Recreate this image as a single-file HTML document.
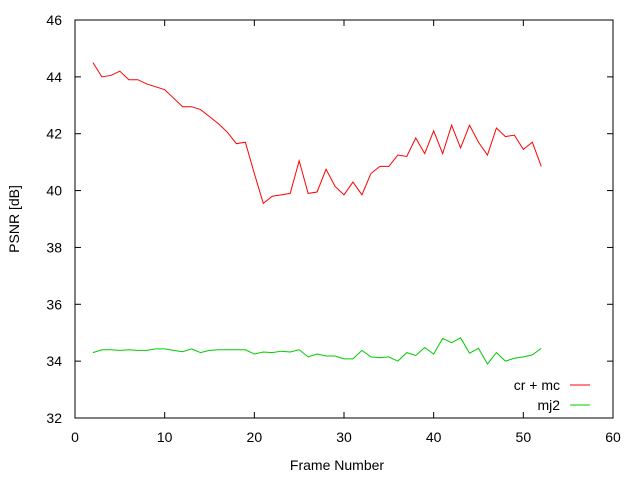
<!DOCTYPE html>
<html><head><meta charset="utf-8"><style>
body{margin:0;background:#fff}
svg text{font-family:"Liberation Sans",sans-serif;font-size:14px;fill:#000}
</style></head><body>
<svg id="chart" width="640" height="480">
<rect x="75" y="20" width="538" height="398" fill="none" stroke="#000"/>
<g id="axes"></g>
<text x="337" y="470" text-anchor="middle">Frame Number</text>
<text transform="translate(19,219) rotate(-90)" text-anchor="middle">PSNR [dB]</text>
<g id="series"></g>
<g>
<text x="560" y="390" text-anchor="end">cr + mc</text>
<line x1="570" y1="385" x2="590" y2="385" stroke="#f00"/>
<text x="560" y="410" text-anchor="end">mj2</text>
<line x1="570" y1="405" x2="590" y2="405" stroke="#0c0"/>
</g>
</svg>
<script>
const frames=[];for(let f=2;f<=52;f++)frames.push(f);
const crmc=[44.5,44.0,44.05,44.2,43.9,43.9,43.75,43.65,43.55,43.25,42.95,42.95,42.85,42.6,42.35,42.05,41.65,41.7,40.6,39.55,39.8,39.85,39.9,41.05,39.9,39.95,40.75,40.15,39.85,40.3,39.85,40.6,40.85,40.85,41.25,41.2,41.85,41.3,42.1,41.3,42.3,41.5,42.3,41.7,41.25,42.2,41.9,41.95,41.45,41.7,40.85];
const mj2=[34.3,34.4,34.4,34.38,34.4,34.38,34.38,34.43,34.43,34.38,34.33,34.43,34.3,34.38,34.4,34.4,34.4,34.4,34.25,34.32,34.3,34.35,34.32,34.4,34.15,34.25,34.18,34.18,34.08,34.08,34.38,34.15,34.12,34.15,34.0,34.3,34.2,34.48,34.25,34.8,34.65,34.82,34.28,34.45,33.9,34.3,34.0,34.1,34.15,34.22,34.45];
const xTicks=[0,10,20,30,40,50,60];
const yTicks=[32,34,36,38,40,42,44,46];
const sx=v=>75+v*538/60, sy=v=>418-(v-32)*398/14;
const NS="http://www.w3.org/2000/svg";
const ax=document.getElementById('axes');
function mk(t,a,p){const e=document.createElementNS(NS,t);for(const k in a)e.setAttribute(k,a[k]);p.appendChild(e);return e;}
xTicks.forEach(v=>{const x=sx(v);
 const l=mk('line',{x1:x,y1:418,x2:x,y2:412,stroke:'#000'},ax);
 
 
 mk('line',{x1:x,y1:20,x2:x,y2:26,stroke:'#000'},ax);
 const t=mk('text',{x:x,y:442,'text-anchor':'middle'},ax);t.textContent=v;
 
 });
yTicks.forEach(v=>{const y=sy(v);
 const l=mk('line',{x1:75,y1:y,x2:81,y2:y,stroke:'#000'},ax);
 
 
 mk('line',{x1:613,y1:y,x2:607,y2:y,stroke:'#000'},ax);
 const t=mk('text',{x:62,y:y+5,'text-anchor':'end'},ax);t.textContent=v;
 
 });
const sg=document.getElementById('series');
function line(vals,col,name){const p=mk('polyline',{points:vals.map((v,i)=>sx(frames[i])+','+sy(v)).join(' '),fill:'none',stroke:col,'stroke-width':1},sg);
 
 }
line(crmc,'#f00','series-cr-mc');
line(mj2,'#0c0','series-mj2');
</script>
</body></html>
